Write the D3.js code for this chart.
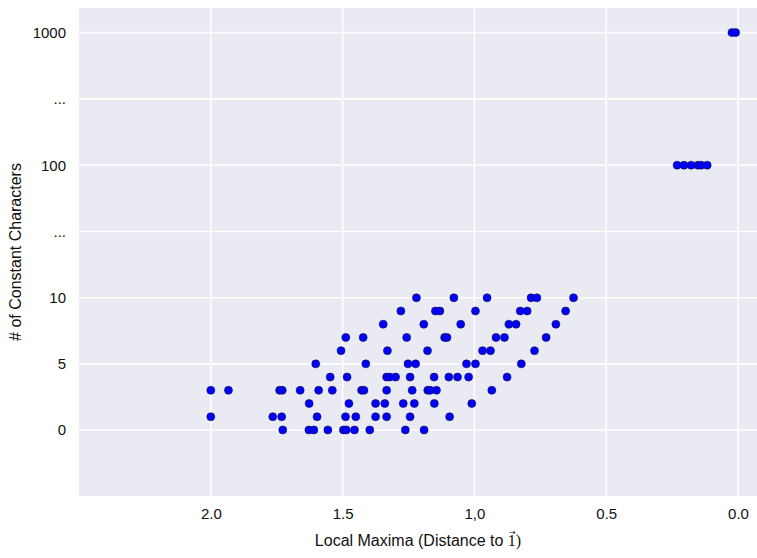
<!DOCTYPE html>
<html>
<head>
<meta charset="utf-8">
<script src="https://cdn.jsdelivr.net/npm/d3@7"></script>
<style>
  html, body { margin: 0; padding: 0; background: #fff; }
  text { font-family: "Liberation Sans", Arial, sans-serif; fill: #111; }
</style>
</head>
<body>
<svg id="chart" width="757" height="558"></svg>
<script>
// number of constant characters for each row of points
const counts = [10, 9, 8, 7, 6, 5, 4, 3, 2, 1, 0, 100, 1000];
// distance to the all-ones vector for the local maxima in each row
const distances = [
  [1.220, 1.078, 0.952, 0.785, 0.763, 0.624],
  [1.279, 1.148, 1.131, 0.996, 0.826, 0.800, 0.654],
  [1.346, 1.192, 1.052, 0.869, 0.842, 0.691],
  [1.488, 1.422, 1.257, 1.113, 1.104, 0.918, 0.886, 0.728],
  [1.506, 1.330, 1.178, 0.969, 0.939, 0.772],
  [1.602, 1.412, 1.252, 1.223, 1.030, 0.996, 0.822],
  [1.547, 1.483, 1.333, 1.321, 1.299, 1.244, 1.153, 1.097, 1.064, 1.022, 0.876],
  [2.000, 1.933, 1.739, 1.729, 1.661, 1.591, 1.539, 1.428, 1.419, 1.333, 1.236, 1.177, 1.168, 1.144, 0.934],
  [1.627, 1.476, 1.375, 1.340, 1.270, 1.228, 1.152, 1.010],
  [2.000, 1.765, 1.731, 1.597, 1.489, 1.450, 1.375, 1.333, 1.244, 1.094],
  [1.727, 1.628, 1.609, 1.556, 1.497, 1.486, 1.455, 1.397, 1.262, 1.191],
  [0.231, 0.205, 0.178, 0.152, 0.140, 0.117],
  [0.023, 0.009]
];

const xTicks = [2.0, 1.5, 1.0, 0.5, 0.0];
const xTickLabels = ["2.0", "1.5", "1,0", "0.5", "0.0"];
const yTicks = [0, 5, 10, 55, 100, 550, 1000];
const yTickLabels = ["0", "5", "10", "...", "100", "...", "1000"];

const points = [];
counts.forEach((c, i) => distances[i].forEach(d => points.push({ x: d, y: c })));

const svg = d3.select("#chart");
const plotL = 79, plotR = 757, plotT = 8, plotB = 496;

// x runs backwards, 2.5 on the left to just past 0 on the right
const x = d3.scaleLinear().domain([2.5, -0.072]).range([plotL, plotR]);
// piecewise y: linear 0..10, then one step per decade
const y = d3.scaleLinear()
  .domain([-5, 10, 100, 1000])
  .range([plotB, 297.8, 165.2, 32.6]);

svg.append("rect")
  .attr("x", plotL).attr("y", plotT)
  .attr("width", plotR - plotL).attr("height", plotB - plotT)
  .attr("fill", "#eaeaf2");

// grid
svg.append("g").selectAll("line")
  .data(xTicks).enter().append("line")
  .attr("x1", d => x(d)).attr("x2", d => x(d))
  .attr("y1", plotT).attr("y2", plotB)
  .attr("stroke", "#fff").attr("stroke-width", 1.6);

svg.append("g").selectAll("line")
  .data(yTicks).enter().append("line")
  .attr("x1", plotL).attr("x2", plotR)
  .attr("y1", d => y(d)).attr("y2", d => y(d))
  .attr("stroke", "#fff").attr("stroke-width", 1.6);

// axes (labels only, seaborn style has no tick marks)
const xAxis = svg.append("g")
  .attr("transform", "translate(0," + plotB + ")")
  .call(d3.axisBottom(x).tickValues(xTicks)
    .tickFormat((d, i) => xTickLabels[i]).tickSize(0).tickPadding(12));
xAxis.select(".domain").remove();
xAxis.selectAll("text").style("font-size", "15px").attr("fill", "#111");

const yAxis = svg.append("g")
  .attr("transform", "translate(" + plotL + ",0)")
  .call(d3.axisLeft(y).tickValues(yTicks)
    .tickFormat((d, i) => yTickLabels[i]).tickSize(0).tickPadding(13));
yAxis.select(".domain").remove();
yAxis.selectAll("text").style("font-size", "15px").attr("fill", "#111");

// points
svg.append("g").selectAll("circle")
  .data(points).enter().append("circle")
  .attr("cx", d => x(d.x))
  .attr("cy", d => y(d.y))
  .attr("r", 4)
  .attr("fill", "#0000ff")
  .attr("stroke", "#101040")
  .attr("stroke-width", 0.6);

// axis titles
const xt = svg.append("text")
  .attr("x", (plotL + plotR) / 2)
  .attr("y", 546)
  .attr("text-anchor", "middle")
  .style("font-size", "16px");
const prefix = "Local Maxima (Distance to ";
xt.append("tspan").text(prefix);
xt.append("tspan").style("font-family", "'Liberation Serif', 'DejaVu Serif', serif")
  .style("font-size", "16px").text("1");
xt.append("tspan").style("font-family", "'Liberation Serif', 'DejaVu Serif', serif")
  .text(")");

// vector arrow over the 1
const oneStart = xt.node().getStartPositionOfChar(prefix.length);
const oneEnd = xt.node().getEndPositionOfChar(prefix.length);
svg.append("text")
  .attr("x", (oneStart.x + oneEnd.x) / 2 + 0.5)
  .attr("y", 535)
  .attr("text-anchor", "middle")
  .style("font-family", "'DejaVu Sans', sans-serif")
  .style("font-size", "8px")
  .text("\u2192");

svg.append("text")
  .attr("transform", "translate(21," + (plotT + plotB) / 2 + ") rotate(-90)")
  .attr("text-anchor", "middle")
  .style("font-size", "16px")
  .text("# of Constant Characters");
</script>
</body>
</html>
